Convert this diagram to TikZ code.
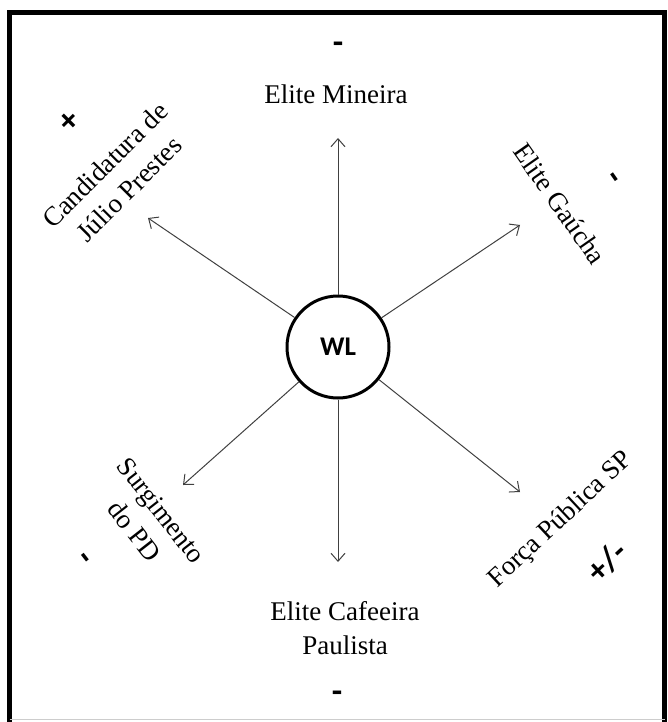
\documentclass[tikz,border=0pt]{standalone}
\usepackage{fontspec}
\setmainfont{Liberation Serif}
\newfontfamily\calibrifont{Carlito}
\usetikzlibrary{arrows.meta}
\definecolor{ArrowGray}{RGB}{64,64,64}
\definecolor{FrameGray}{RGB}{205,205,205}
\tikzset{
  hub/.style={
    draw=black,
    circle,
    line width=3pt,
    minimum size=102pt,
    inner sep=0pt,
    font=\calibrifont\bfseries\fontsize{27}{30}\selectfont
  },
  actor/.style={align=center,inner sep=0pt,font=\fontsize{27}{34}\selectfont},
  signlabel/.style={inner sep=0pt,font=\calibrifont\bfseries\fontsize{34}{36}\selectfont},
  spoke/.style={-{Straight Barb[length=8pt,width=14pt]},line width=1pt,draw=ArrowGray}
}

\begin{document}
\begin{tikzpicture}[x=1pt,y=-1pt]
  \useasboundingbox (0,0) rectangle (667,722);
  \draw[line width=4.5pt] (9.5,722) -- (9.5,12.5) -- (664.5,12.5) -- (664.5,722);
  \draw[FrameGray,line width=1pt] (9.5,719.5) -- (664.5,719.5);

  \node[hub] (wl) at (338,347) {WL};

  \coordinate (tipN) at (338,138);
  \coordinate (tipS) at (338,562);
  \coordinate (tipNW) at (148,218);
  \coordinate (tipNE) at (520,225);
  \coordinate (tipSW) at (183,485);
  \coordinate (tipSE) at (520,492);
  \foreach \t in {N,S,NW,NE,SW,SE}
    \draw[spoke] (wl) -- (tip\t);

  \node[actor] (mineira) at (336,94) {Elite Mineira};
  \node[actor] (cafeeira) at (345,628) {Elite Cafeeira\\Paulista};
  \node[actor,rotate=45] (julio) at (117,177) {Candidatura de\\Júlio Prestes};
  \node[actor,rotate=-55] (gaucha) at (560,204) {Elite Gaúcha};
  \node[actor,rotate=-52] (pd) at (148,521) {Surgimento\\do PD};
  \node[actor,rotate=43] (forca) at (561,520) {Força Pública SP};

  \node[signlabel] (signN) at (338,48) {-};
  \node[signlabel,rotate=45] (signNW) at (70,122) {+};
  \node[signlabel,rotate=-55] (signNE) at (611,179) {-};
  \node[signlabel,rotate=-52] (signSW) at (82,560) {-};
  \node[signlabel] (signS) at (337,697) {-};
  \node[signlabel,rotate=43] (signSE) at (607,562) {+/-};
\end{tikzpicture}
\end{document}
